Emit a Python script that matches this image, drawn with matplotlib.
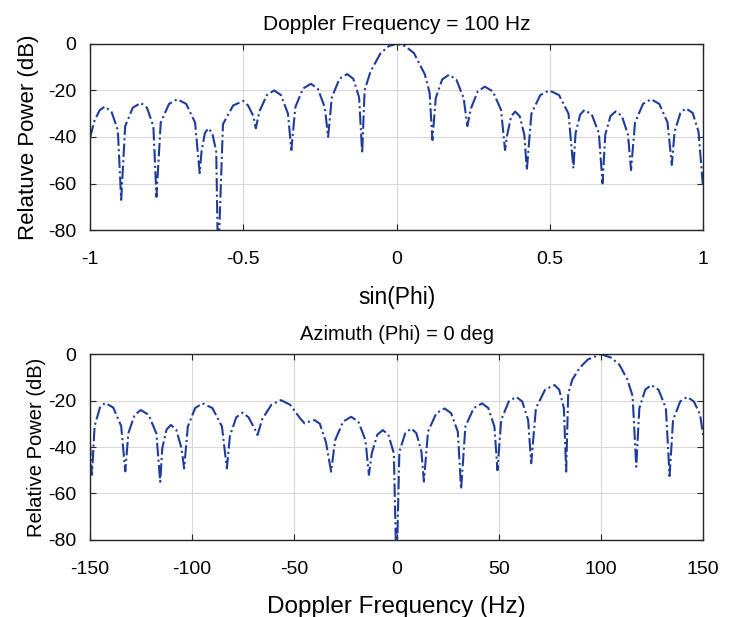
import numpy as np
import matplotlib.pyplot as plt

plt.rcParams['font.family'] = ['Liberation Sans', 'DejaVu Sans']
plt.rcParams['axes.unicode_minus'] = False  # MATLAB style hyphen minus

# ---- data ----
# top panel: power vs sin(Phi) at Doppler 100 Hz
sinphi = [-1.0, -0.985, -0.968, -0.952, -0.930, -0.909, -0.898,
          -0.885, -0.860, -0.834, -0.814, -0.793, -0.783,
          -0.769, -0.742, -0.715, -0.686, -0.657, -0.642,
          -0.636, -0.625, -0.614, -0.601, -0.588, -0.582,
          -0.566, -0.533, -0.500, -0.484, -0.467, -0.459,
          -0.447, -0.423, -0.399, -0.377, -0.354, -0.343,
          -0.330, -0.305, -0.279, -0.257, -0.234, -0.223,
          -0.211, -0.186, -0.161, -0.141, -0.122, -0.112,
          -0.104, -0.085, -0.052, -0.025, 0.0, 0.028, 0.057, 0.092, 0.108, 0.117,
          0.128, 0.149, 0.171, 0.195, 0.219, 0.231,
          0.242, 0.265, 0.288, 0.314, 0.341, 0.354,
          0.361, 0.374, 0.387, 0.402, 0.417, 0.425,
          0.440, 0.469, 0.498, 0.530, 0.561, 0.577,
          0.584, 0.599, 0.613, 0.637, 0.660, 0.672,
          0.681, 0.698, 0.715, 0.735, 0.755, 0.765,
          0.778, 0.804, 0.830, 0.857, 0.884, 0.898,
          0.907, 0.926, 0.944, 0.966, 0.985, 1.0]
power_phi = [-40.5, -33, -28.5, -27, -29, -37, -67,
             -35.4, -27.4, -25.4, -27.4, -35.4, -65.7,
             -33.8, -25.8, -23.8, -25.8, -33.8, -55.5,
             -46.3, -38.3, -36.3, -38.3, -46.3, -95,
             -34.5, -26.5, -24.5, -26.5, -31, -36.3,
             -29, -22, -20, -22, -30, -45.6,
             -27.2, -19.2, -17.2, -19.2, -27.2, -39.9,
             -23, -15, -13, -15, -23, -47,
             -20, -12, -4, -1, 0, -1, -4, -13, -21, -41.3,
             -23.3, -15.3, -13.3, -15.3, -23.3, -35.3,
             -28, -20.4, -18.4, -20.4, -28.4, -45.6,
             -39.1, -31.1, -29.1, -31.1, -39.1, -54.2,
             -30, -22, -20, -22, -30, -53.5,
             -38.4, -30.4, -28.4, -30.4, -38.4, -59.9,
             -39, -31, -29, -31, -39, -54.2,
             -33.8, -25.8, -23.8, -25.8, -33.8, -52,
             -37.7, -29.7, -27.7, -29.7, -37.7, -62]

# bottom panel: power vs Doppler frequency at Phi = 0 deg
doppler = [-150, -149, -147.7, -145.1, -142.5, -138.6, -134.7, -132.7,
           -131.2, -128.1, -125.1, -121.3, -117.5, -115.6,
           -114.6, -112.5, -110.4, -107.8, -105.2, -103.9,
           -102.1, -98.5, -94.9, -90.1, -85.4, -83.0,
           -81.5, -78.4, -75.3, -72.4, -69.5, -68.0,
           -65.7, -61.2, -56.6, -52.0, -47.3, -45.0,
           -42.5, -40.1, -37.5, -34.5, -32.0,
           -30.0, -26.1, -22.2, -18.7, -15.2, -13.5,
           -12.1, -9.4, -6.7, -4.0, -1.3, 0.0,
           1.4, 4.3, 7.2, 9.7, 12.2, 13.4,
           15.4, 19.5, 23.5, 26.7, 30.0, 31.6,
           33.7, 37.8, 41.9, 44.9, 47.9, 49.4,
           51.2, 54.9, 58.6, 61.5, 64.4, 65.9,
           68.2, 72.7, 77.3, 79.6, 81.9, 83.0,
           84.0, 86.0, 89.5, 93.6, 100.0, 105.0, 109.0, 113.0, 115.5, 117.3,
           118.8, 121.7, 124.6, 128.2, 131.8, 133.6,
           135.3, 138.8, 142.2, 145.5, 148.5, 150.0]
power_dop = [-38, -52, -31, -23, -21, -23, -31, -50.5,
             -34.1, -26.1, -24.1, -26.1, -34.1, -55,
             -40.5, -32.5, -30.5, -32.5, -40.5, -49.2,
             -31.2, -23.2, -21.2, -23.2, -31.2, -49.2,
             -35.2, -27.2, -25.2, -27.2, -32, -34.8,
             -28, -21.8, -19.8, -21.8, -27.5, -29.8,
             -29, -28.4, -30, -38, -50.6,
             -37, -29, -27, -29, -37, -52,
             -42.7, -34.7, -32.7, -34.7, -42.7, -95,
             -42, -34, -32, -34, -42, -54.9,
             -33.4, -25.4, -23.4, -25.4, -33.4, -58.2,
             -31.2, -23.2, -21.2, -23.2, -31.2, -50,
             -28.4, -20.4, -18.4, -20.4, -28.4, -47,
             -23.3, -15.3, -13.3, -15.3, -23.3, -50.6,
             -17, -11, -6, -2.3, 0, -1.5, -4.5, -11, -18, -48.5,
             -23.3, -15.3, -13.3, -15.3, -23.3, -52.5,
             -28.4, -20.4, -18.4, -20.4, -26, -34.8]

line_color = '#1f3c9c'


def style_axes(ax):
    ax.grid(True, color='#d9d9d9', linewidth=0.8)
    ax.set_axisbelow(True)
    for s in ax.spines.values():
        s.set_color('#262626')
        s.set_linewidth(1.0)
    ax.tick_params(direction='in', top=True, right=True, length=4,
                   labelsize=14, colors='#262626', labelcolor='black')
    ax.tick_params(axis='x', pad=15)
    ax.tick_params(axis='y', pad=10)


fig = plt.figure(figsize=(7.37, 6.17), dpi=100)

ax1 = fig.add_axes([0.122, 0.627, 0.832, 0.302])
ax1.plot(sinphi, power_phi, linestyle='-.', color=line_color, linewidth=1.5)
ax1.set_xlim(-1, 1)
ax1.set_ylim(-80, 0)
ax1.set_xticks([-1, -0.5, 0, 0.5, 1])
ax1.set_xticklabels(['-1', '-0.5', '0', '0.5', '1'])
ax1.set_yticks([-80, -60, -40, -20, 0])
ax1.set_title('Doppler Frequency = 100 Hz', fontsize=15, pad=10)
ax1.set_xlabel('sin(Phi)', fontsize=16.5, labelpad=13)
ax1.set_ylabel('Relatuve Power (dB)', fontsize=16, labelpad=6)
style_axes(ax1)

ax2 = fig.add_axes([0.122, 0.125, 0.832, 0.301])
ax2.plot(doppler, power_dop, linestyle='-.', color=line_color, linewidth=1.5)
ax2.set_xlim(-150, 150)
ax2.set_ylim(-80, 0)
ax2.set_xticks([-150, -100, -50, 0, 50, 100, 150])
ax2.set_yticks([-80, -60, -40, -20, 0])
ax2.set_title('Azimuth (Phi) = 0 deg', fontsize=14.5, pad=10)
ax2.set_xlabel('Doppler Frequency (Hz)', fontsize=17.5, labelpad=13)
ax2.set_ylabel('Relative Power (dB)', fontsize=14.5, labelpad=1)
style_axes(ax2)

fig.savefig('out.png', dpi=100)
